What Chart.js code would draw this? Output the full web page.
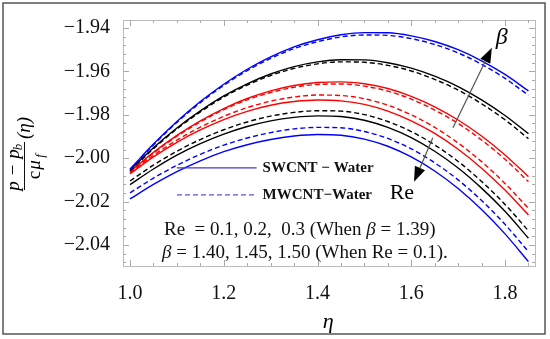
<!DOCTYPE html>
<html>
<head>
<meta charset="utf-8">
<script src="https://cdn.jsdelivr.net/npm/chart.js@4"></script>
<style>
  html, body { margin: 0; padding: 0; background: #fff; }
  #box { width: 550px; height: 339px; }
</style>
</head>
<body>
<div id="box"><canvas id="myChart" width="550" height="339"></canvas></div>
<script>
// eta values and pressure curves
const eta = [1.00, 1.05, 1.10, 1.15, 1.20, 1.25, 1.30, 1.35, 1.40, 1.45, 1.50, 1.55, 1.60, 1.65, 1.70, 1.75, 1.80, 1.85];

// beta = 1.50, 1.45, 1.40 (Re = 0.1)
const swBeta150 = [-2.0050, -1.9935, -1.9831, -1.9739, -1.9659, -1.9590, -1.9533, -1.9487, -1.9454, -1.9431, -1.9421, -1.9422, -1.9436, -1.9462, -1.9500, -1.9551, -1.9614, -1.9690];
const mwBeta150 = [-2.0053, -1.9939, -1.9835, -1.9744, -1.9664, -1.9596, -1.9540, -1.9495, -1.9463, -1.9441, -1.9432, -1.9434, -1.9449, -1.9476, -1.9515, -1.9567, -1.9632, -1.9710];
const swBeta145 = [-2.0055, -1.9952, -1.9861, -1.9782, -1.9713, -1.9657, -1.9612, -1.9578, -1.9556, -1.9546, -1.9547, -1.9560, -1.9585, -1.9622, -1.9670, -1.9731, -1.9803, -1.9887];
const mwBeta145 = [-2.0058, -1.9956, -1.9865, -1.9787, -1.9718, -1.9663, -1.9619, -1.9586, -1.9565, -1.9556, -1.9558, -1.9572, -1.9598, -1.9637, -1.9686, -1.9749, -1.9823, -1.9910];
const swBeta140 = [-2.0062, -1.9973, -1.9895, -1.9828, -1.9771, -1.9725, -1.9690, -1.9665, -1.9651, -1.9648, -1.9657, -1.9679, -1.9715, -1.9763, -1.9824, -1.9898, -1.9985, -2.0085];
const mwBeta140 = [-2.0065, -1.9977, -1.9899, -1.9833, -1.9776, -1.9731, -1.9697, -1.9673, -1.9660, -1.9658, -1.9668, -1.9691, -1.9728, -1.9778, -1.9840, -1.9916, -2.0005, -2.0108];

// Re = 0.1, 0.2, 0.3 (beta = 1.39)
const mwRe01 = [-2.0068, -1.9987, -1.9917, -1.9857, -1.9807, -1.9767, -1.9737, -1.9718, -1.9709, -1.9711, -1.9726, -1.9756, -1.9800, -1.9858, -1.9930, -2.0016, -2.0117, -2.0231];
const swRe01 = [-2.0072, -1.9994, -1.9927, -1.9870, -1.9822, -1.9784, -1.9756, -1.9739, -1.9732, -1.9736, -1.9752, -1.9783, -1.9828, -1.9886, -1.9959, -2.0046, -2.0147, -2.0262];
const mwRe02 = [-2.0105, -2.0032, -1.9968, -1.9914, -1.9869, -1.9833, -1.9806, -1.9789, -1.9781, -1.9783, -1.9799, -1.9831, -1.9877, -1.9939, -2.0015, -2.0107, -2.0213, -2.0335];
const swRe02 = [-2.0122, -2.0050, -1.9986, -1.9933, -1.9889, -1.9854, -1.9828, -1.9812, -1.9805, -1.9808, -1.9825, -1.9858, -1.9905, -1.9968, -2.0045, -2.0138, -2.0245, -2.0369];
const mwRe03 = [-2.0160, -2.0092, -2.0033, -1.9982, -1.9940, -1.9907, -1.9882, -1.9865, -1.9858, -1.9860, -1.9877, -1.9909, -1.9957, -2.0021, -2.0100, -2.0195, -2.0305, -2.0431];
const swRe03 = [-2.0188, -2.0121, -2.0062, -2.0012, -1.9970, -1.9938, -1.9914, -1.9898, -1.9891, -1.9894, -1.9912, -1.9945, -1.9994, -2.0059, -2.0140, -2.0237, -2.0349, -2.0477];

const xTicks = [1.0, 1.2, 1.4, 1.6, 1.8];
const yTicks = [-2.04, -2.02, -2.00, -1.98, -1.96, -1.94];

const BLUE = 'rgb(0, 0, 255)';
const RED = 'rgb(255, 0, 0)';
const BLACK = 'rgb(0, 0, 0)';
const SERIF = '"Liberation Serif", "Times New Roman", serif';

function line(label, ys, color, dashed) {
  return {
    label: label,
    data: eta.map((x, i) => ({ x: x, y: ys[i] })),
    borderColor: color,
    borderWidth: 1.4,
    borderDash: dashed ? [5, 3] : [],
    pointRadius: 0,
    fill: false,
    cubicInterpolationMode: 'monotone'
  };
}

const datasets = [
  line('SWCNT β=1.50', swBeta150, BLUE, false),
  line('MWCNT β=1.50', mwBeta150, BLUE, true),
  line('SWCNT β=1.45', swBeta145, BLACK, false),
  line('MWCNT β=1.45', mwBeta145, BLACK, true),
  line('SWCNT β=1.40', swBeta140, RED, false),
  line('MWCNT β=1.40', mwBeta140, RED, true),
  line('MWCNT Re=0.1', mwRe01, RED, true),
  line('SWCNT Re=0.1', swRe01, RED, false),
  line('MWCNT Re=0.2', mwRe02, BLACK, true),
  line('SWCNT Re=0.2', swRe02, BLACK, false),
  line('MWCNT Re=0.3', mwRe03, BLUE, true),
  line('SWCNT Re=0.3', swRe03, BLUE, false)
];

function arrow(ctx, x1, y1, x2, y2, head, half) {
  const a = Math.atan2(y2 - y1, x2 - x1);
  ctx.strokeStyle = '#555';
  ctx.lineWidth = 1.2;
  ctx.beginPath();
  ctx.moveTo(x1, y1);
  ctx.lineTo(x2 - head * Math.cos(a), y2 - head * Math.sin(a));
  ctx.stroke();
  ctx.fillStyle = '#000';
  ctx.beginPath();
  ctx.moveTo(x2, y2);
  ctx.lineTo(x2 - head * Math.cos(a) + half * Math.sin(a), y2 - head * Math.sin(a) - half * Math.cos(a));
  ctx.lineTo(x2 - head * Math.cos(a) - half * Math.sin(a), y2 - head * Math.sin(a) + half * Math.cos(a));
  ctx.closePath();
  ctx.fill();
}

// draw text pieces one after another, some in italic
function richText(ctx, parts, x, y, size) {
  let cx = x;
  parts.forEach(([t, it]) => {
    ctx.font = (it ? 'italic ' : '') + size + 'px ' + SERIF;
    ctx.fillText(t, cx, y);
    cx += ctx.measureText(t).width;
  });
}

const decorations = {
  id: 'decorations',
  afterDraw(chart) {
    const ctx = chart.ctx;
    const xs = chart.scales.x, ys = chart.scales.y;
    const a = chart.chartArea;
    ctx.save();

    // frame with inward ticks
    ctx.strokeStyle = '#bbb';
    ctx.lineWidth = 1;
    ctx.strokeRect(a.left + 0.5, a.top + 0.5, a.right - a.left, a.bottom - a.top);
    ctx.strokeStyle = '#aaa';
    ctx.beginPath();
    for (let v = 0.95; v <= 1.86; v += 0.05) {
      const x = Math.round(xs.getPixelForValue(v)) + 0.5;
      if (x < a.left || x > a.right) continue;
      const major = Math.abs(v * 5 - Math.round(v * 5)) < 1e-6;
      const len = major ? 6 : 3;
      ctx.moveTo(x, a.bottom); ctx.lineTo(x, a.bottom - len);
      ctx.moveTo(x, a.top); ctx.lineTo(x, a.top + len);
    }
    for (let k = 0; k <= 30; k++) {
      const v = -2.06 + k * 0.004;
      const y = Math.round(ys.getPixelForValue(v)) + 0.5;
      if (y < a.top || y > a.bottom) continue;
      const major = k % 5 === 0;
      const len = major ? 6 : 3;
      ctx.moveTo(a.left, y); ctx.lineTo(a.left + len, y);
      ctx.moveTo(a.right, y); ctx.lineTo(a.right - len, y);
    }
    ctx.stroke();

    // legend
    const lx1 = xs.getPixelForValue(1.10), lx2 = xs.getPixelForValue(1.27);
    const ly1 = ys.getPixelForValue(-2.0045), ly2 = ys.getPixelForValue(-2.0169);
    ctx.lineWidth = 1.3;
    ctx.strokeStyle = '#3a3ad0';
    ctx.beginPath(); ctx.moveTo(lx1, ly1); ctx.lineTo(lx2, ly1); ctx.stroke();
    ctx.setLineDash([5, 3]);
    ctx.strokeStyle = '#5050d8';
    ctx.beginPath(); ctx.moveTo(lx1, ly2); ctx.lineTo(lx2, ly2); ctx.stroke();
    ctx.setLineDash([]);
    ctx.fillStyle = '#111';
    ctx.font = 'bold 15px ' + SERIF;
    ctx.textAlign = 'left';
    ctx.textBaseline = 'middle';
    ctx.fillText('SWCNT \u2212 Water', lx2 + 6, ly1);
    ctx.fillText('MWCNT\u2212Water', lx2 + 6, ly2);

    // parameter notes
    const tx = xs.getPixelForValue(1.0725);
    richText(ctx, [['Re  = 0.1, 0.2,  0.3 (When ', false], ['\u03B2', true], [' = 1.39)', false]],
      tx, ys.getPixelForValue(-2.0331), 19);
    richText(ctx, [['\u03B2', true], [' = 1.40, 1.45, 1.50 (When Re = 0.1).', false]],
      tx - 2, ys.getPixelForValue(-2.0437), 19);

    // arrows
    ctx.textAlign = 'center';
    arrow(ctx, xs.getPixelForValue(1.689), ys.getPixelForValue(-1.986),
      xs.getPixelForValue(1.772), ys.getPixelForValue(-1.9491), 15, 5.5);
    arrow(ctx, xs.getPixelForValue(1.646), ys.getPixelForValue(-1.9906),
      xs.getPixelForValue(1.606), ys.getPixelForValue(-2.0109), 15, 5.5);
    ctx.font = 'italic 24px ' + SERIF;
    ctx.fillText('\u03B2', xs.getPixelForValue(1.793), ys.getPixelForValue(-1.9445));
    ctx.font = '22px ' + SERIF;
    ctx.fillText('Re', xs.getPixelForValue(1.58), ys.getPixelForValue(-2.0162));

    // axis titles
    ctx.font = 'italic 22px ' + SERIF;
    ctx.fillText('\u03B7', xs.getPixelForValue(1.423), 322);

    ctx.save();
    ctx.translate(24, 166);
    ctx.rotate(-Math.PI / 2);
    ctx.font = 'italic 19px ' + SERIF;
    ctx.textBaseline = 'alphabetic';
    ctx.fillText('p \u2212 p', -4, -5);
    ctx.font = 'italic 13px ' + SERIF;
    ctx.fillText('b', 19, -2);
    ctx.lineWidth = 1;
    ctx.strokeStyle = '#111';
    ctx.beginPath(); ctx.moveTo(-24, 0.5); ctx.lineTo(24, 0.5); ctx.stroke();
    ctx.font = '19px ' + SERIF;
    ctx.fillText('c', -9, 16);
    ctx.font = 'italic 19px ' + SERIF;
    ctx.fillText('\u03BC', 1, 16);
    ctx.font = 'italic 13px ' + SERIF;
    ctx.fillText('f', 10, 20);
    ctx.font = 'italic 19px ' + SERIF;
    ctx.textAlign = 'left';
    ctx.fillText('(\u03B7)', 27, 6);
    ctx.restore();

    // outer border
    ctx.strokeStyle = '#555';
    ctx.lineWidth = 1.5;
    ctx.strokeRect(3, 3, 542, 331);
    ctx.restore();
  }
};

const config = {
  type: 'line',
  data: { datasets: datasets },
  options: {
    responsive: false,
    animation: false,
    layout: { padding: { left: 0, right: 15, top: 20, bottom: 0 } },
    plugins: {
      legend: { display: false },
      tooltip: { enabled: false }
    },
    scales: {
      x: {
        type: 'linear',
        min: 0.985,
        max: 1.864,
        grid: { display: false },
        border: { display: false },
        afterBuildTicks: (s) => { s.ticks = xTicks.map(v => ({ value: v })); },
        afterFit: (s) => { s.height = 73; },
        ticks: {
          padding: 8,
          color: '#111',
          font: { family: SERIF, size: 20 },
          callback: (v) => Number(v).toFixed(1)
        }
      },
      y: {
        type: 'linear',
        min: -2.0497,
        max: -1.9363,
        grid: { display: false },
        border: { display: false },
        afterBuildTicks: (s) => { s.ticks = yTicks.map(v => ({ value: v })); },
        afterFit: (s) => { s.width = 123; },
        ticks: {
          padding: 5,
          color: '#111',
          font: { family: SERIF, size: 20 },
          callback: (v) => '\u2212' + Math.abs(v).toFixed(2)
        }
      }
    }
  },
  plugins: [decorations]
};

const myChart = new Chart(document.getElementById('myChart'), config);
</script>
</body>
</html>
